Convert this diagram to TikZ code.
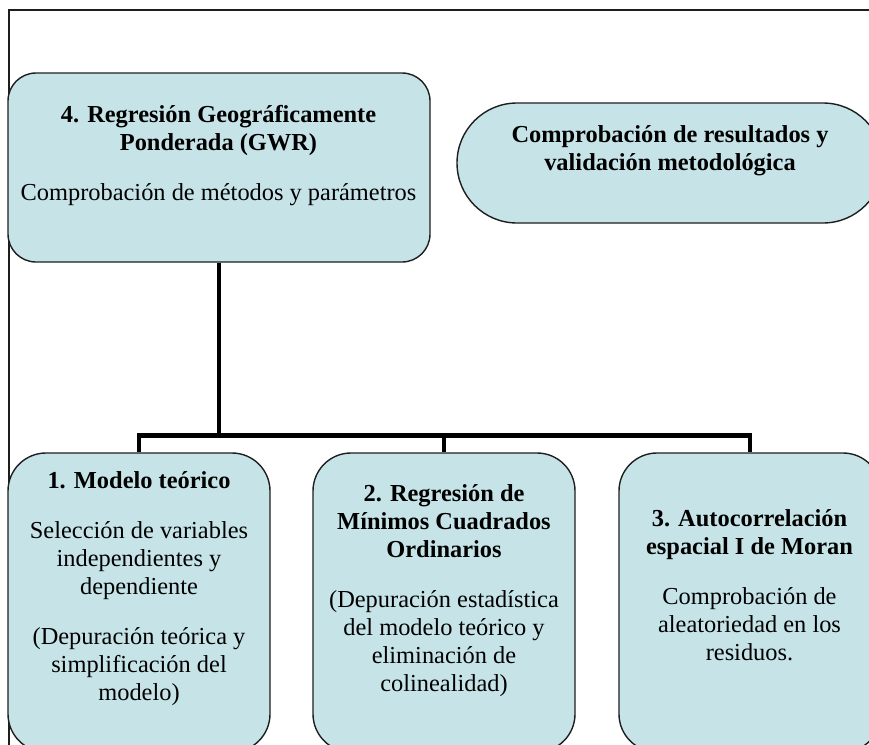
\documentclass[tikz,border=0pt]{standalone}
\usepackage{fontspec}
\setmainfont{Liberation Serif}
\definecolor{boxfill}{RGB}{198,228,232}
\definecolor{edgecol}{RGB}{30,30,30}
\begin{document}
\begin{tikzpicture}[x=1pt,y=-1pt,
  box/.style={draw=edgecol, line width=1.4pt, fill=boxfill, inner sep=0pt},
  txt/.style={align=center, inner sep=0pt, font=\fontsize{24.4}{28}\selectfont},
  conn/.style={line width=4.8pt, black, line join=miter},
  frame/.style={draw=edgecol, line width=1.2pt}]
\useasboundingbox (0,0) rectangle (869,744);
\clip (0,0) rectangle (869,744);
\draw[frame] (9,10) rectangle (900,800);
% boxes
\node[box, rounded corners=28pt, minimum width=422pt, minimum height=189pt] (g) at (219,167.5) {};
\node[box, rounded corners=60pt, minimum width=426pt, minimum height=120pt] (v) at (670,163) {};
\node[box, rounded corners=38pt, minimum width=262pt, minimum height=299pt] (b1) at (139,602.5) {};
\node[box, rounded corners=38pt, minimum width=262pt, minimum height=299pt] (b2) at (444,602.5) {};
\node[box, rounded corners=38pt, minimum width=262pt, minimum height=299pt] (b3) at (750,602.5) {};
% texts
\node[txt] (tg) at (218.5,155.4) {\strut\textbf{4. Regresión Geográficamente}\\\textbf{Ponderada (GWR)}\\[22pt]Comprobación de métodos y parámetros\strut};
\node[txt] (tv) at (670,150.4) {\strut\textbf{Comprobación de resultados y}\\\textbf{validación metodológica}\strut};
\node[txt] (t1) at (139,588.9) {\strut\textbf{1. Modelo teórico}\\[22pt]Selección de variables\\independientes y\\dependiente\\[22pt](Depuración teórica y\\simplificación del\\modelo)\strut};
\node[txt] (t2) at (444,590.9) {\strut\textbf{2. Regresión de}\\\textbf{Mínimos Cuadrados}\\\textbf{Ordinarios}\\[22pt](Depuración estadística\\del modelo teórico y\\eliminación de\\colinealidad)\strut};
\node[txt] (t3) at (749.5,587.9) {\strut\textbf{3. Autocorrelación}\\\textbf{espacial I de Moran}\\[22pt]Comprobación de\\aleatoriedad en los\\residuos.\strut};
% connectors
\coordinate (j) at (219,435.5);
\draw[conn] (g.south) -- (j);
\draw[conn] (b1.north) -- (b1.north |- j) -- (b3.north |- j) -- (b3.north);
\draw[conn] (b2.north) -- (b2.north |- j);
\end{tikzpicture}
\end{document}
